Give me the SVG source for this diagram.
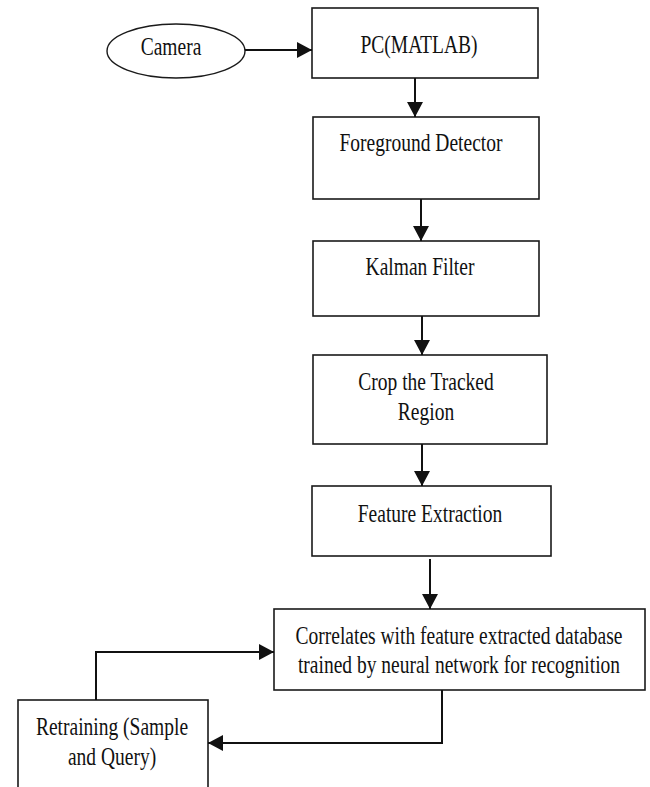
<svg xmlns="http://www.w3.org/2000/svg" width="650" height="787" viewBox="0 0 650 787">
<style>
.box{fill:#fff;stroke:#1a1a1a;stroke-width:1.6}
.t{font-family:"Liberation Serif","Times New Roman",serif;font-size:19.5px;fill:#111;text-anchor:middle}
.ln{fill:none;stroke:#111;stroke-width:2}
</style>
<defs>
<marker id="ah" markerWidth="15" markerHeight="16" refX="15" refY="8" orient="auto" markerUnits="userSpaceOnUse">
<path d="M0,0 L15,8 L0,16 z" fill="#111"/>
</marker>
</defs>
<rect width="650" height="787" fill="#fff"/>
<g id="camera">
<ellipse cx="176" cy="51" rx="69" ry="27" fill="#fff" stroke="#1a1a1a" stroke-width="1.4"/>
<text class="t" transform="translate(171,55) scale(1,1.3)">Camera</text>
</g>
<g id="pc">
<rect class="box" x="312" y="8" width="226" height="70"/>
<text class="t" transform="translate(419,53) scale(1,1.3)">PC(MATLAB)</text>
</g>
<g id="foreground">
<rect class="box" x="313" y="117" width="226" height="82"/>
<text class="t" transform="translate(421,151) scale(1,1.3)">Foreground Detector</text>
</g>
<g id="kalman">
<rect class="box" x="313" y="241" width="226" height="75"/>
<text class="t" transform="translate(420,275) scale(1,1.3)">Kalman Filter</text>
</g>
<g id="crop">
<rect class="box" x="313" y="355" width="234" height="89"/>
<text class="t" transform="translate(426,390) scale(1,1.3)">Crop the Tracked</text>
<text class="t" transform="translate(426,420) scale(1,1.3)">Region</text>
</g>
<g id="feature">
<rect class="box" x="312" y="486" width="239" height="70"/>
<text class="t" transform="translate(430,522) scale(1,1.3)">Feature Extraction</text>
</g>
<g id="correlates">
<rect class="box" x="274" y="609" width="371" height="81"/>
<text class="t" transform="translate(459,644) scale(1,1.3)">Correlates with feature extracted database</text>
<text class="t" transform="translate(459,673) scale(1,1.3)">trained by neural network for recognition</text>
</g>
<g id="retraining">
<rect class="box" x="18" y="700" width="190" height="100"/>
<text class="t" transform="translate(112,735) scale(1,1.3)">Retraining (Sample</text>
<text class="t" transform="translate(112,765) scale(1,1.3)">and Query)</text>
</g>
<g id="connectors">
<line class="ln" x1="245" y1="50" x2="312" y2="50" marker-end="url(#ah)"/>
<line class="ln" x1="415" y1="78" x2="415" y2="117" marker-end="url(#ah)"/>
<line class="ln" x1="421" y1="199" x2="421" y2="241" marker-end="url(#ah)"/>
<line class="ln" x1="422" y1="316" x2="422" y2="355" marker-end="url(#ah)"/>
<line class="ln" x1="422" y1="444" x2="422" y2="486" marker-end="url(#ah)"/>
<line class="ln" x1="430" y1="559" x2="430" y2="609" marker-end="url(#ah)"/>
<polyline class="ln" points="442,690 442,743 208,743" marker-end="url(#ah)"/>
<polyline class="ln" points="96,700 96,652 274,652" marker-end="url(#ah)"/>
</g>
</svg>
